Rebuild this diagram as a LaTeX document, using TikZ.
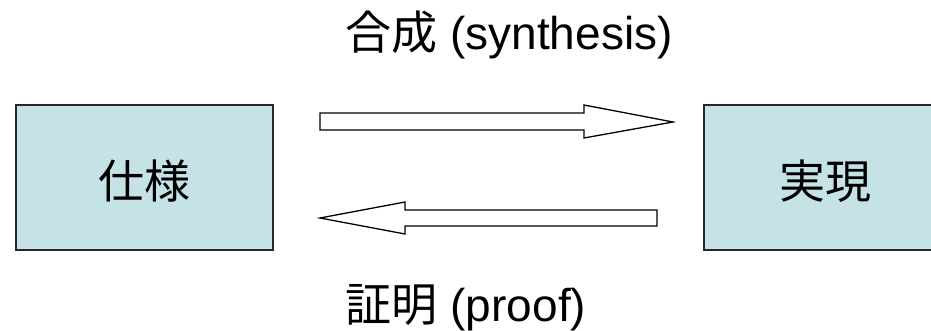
\documentclass[tikz,border=0pt]{standalone}
\usepackage{fontspec}
\setmainfont{Liberation Sans}
\newfontfamily\cjk{Noto Sans CJK JP}
\definecolor{boxfill}{RGB}{197,227,231}
\definecolor{boxline}{RGB}{40,40,40}
\begin{document}
\begin{tikzpicture}[x=1pt,y=-1pt,
  specbox/.style={draw=boxline,line width=1.6pt,fill=boxfill},
  blockarrow/.style={draw=black,line width=1.3pt,fill=white,line join=miter},
  lbl/.style={inner sep=0pt,anchor=base,font=\fontsize{46}{52}\selectfont}]
\useasboundingbox (0,0) rectangle (931,331);
\fill[white] (0,0) rectangle (931,331);
% boxes
\draw[specbox] (16,105) rectangle (273,250);
\draw[specbox] (704,105) rectangle (940,250);
\node[lbl] (spec) at (144.5,199) {\cjk 仕様};
\node[lbl] (impl) at (825,199) {\cjk 実現};
% block arrows
\draw[blockarrow] (320,113) -- (584,113) -- (584,105) -- (673,122) -- (584,138) -- (584,130) -- (320,130) -- cycle;
\draw[blockarrow] (657,210) -- (405,210) -- (405,202) -- (320,218) -- (405,234) -- (405,226) -- (657,226) -- cycle;
% labels
\node[lbl] (syn) at (509,50) {{\cjk 合成} (synthesis)};
\node[lbl] (prf) at (466,321) {{\cjk 証明} (proof)};
\end{tikzpicture}
\end{document}
